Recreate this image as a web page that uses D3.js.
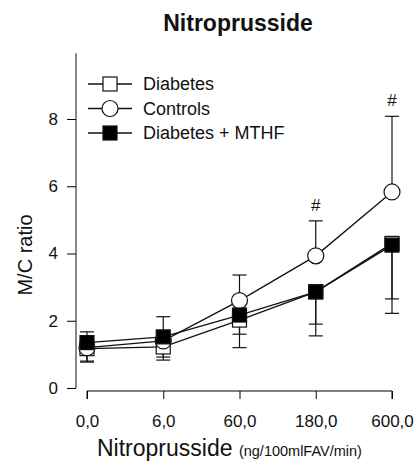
<!DOCTYPE html>
<html>
<head>
<meta charset="utf-8">
<script src="https://cdn.jsdelivr.net/npm/d3@7"></script>
<style>
  body { margin: 0; background: #fff; }
  text { font-family: "Liberation Sans", Arial, sans-serif; fill: #111; }
</style>
</head>
<body>
<script>
// data
var doses = ["0,0", "6,0", "60,0", "180,0", "600,0"];
var controls = [1.2, 1.4, 2.6, 3.93, 5.83];
var controlsUpper = [1.67, 2.12, 3.36, 4.97, 8.08];
var diabetes = [1.17, 1.22, 2.02, 2.86, 4.3];
var diabetesLower = [0.8, 0.92, 1.6, 1.9, 2.65];
var mthf = [1.35, 1.52, 2.17, 2.86, 4.25];
var mthfLower = [0.77, 0.83, 1.2, 1.55, 2.22];
var yTicks = [0, 2, 4, 6, 8];
var signif = ["", "", "", "#", "#"];

var svg = d3.select("body")
            .append("svg")
            .attr("width", 417)
            .attr("height", 465);

var x = d3.scalePoint().domain(doses).range([87, 392]);
var y = d3.scaleLinear().domain([0, 8]).range([388, 119]);

// title
svg.append("text")
   .attr("x", 238).attr("y", 31)
   .attr("text-anchor", "middle")
   .attr("font-size", 23).attr("font-weight", "bold")
   .text("Nitroprusside");

// y axis
var yAxis = svg.append("g")
   .attr("transform", "translate(76,0)")
   .call(d3.axisLeft(y).tickValues(yTicks).tickSize(9).tickPadding(9));
yAxis.select(".domain").remove();
yAxis.append("line")
   .attr("x1", 0).attr("x2", 0)
   .attr("y1", y(9.95)).attr("y2", y(0))
   .attr("stroke", "#111");
yAxis.selectAll("text").attr("font-size", 17).attr("font-family", "Liberation Sans, Arial, sans-serif").attr("fill", "#111");

svg.append("text")
   .attr("transform", "translate(32,255) rotate(-90)")
   .attr("text-anchor", "middle")
   .attr("font-size", 20)
   .text("M/C ratio");

// x axis
var xAxis = svg.append("g")
   .attr("transform", "translate(0,391)")
   .call(d3.axisBottom(x).tickSize(8).tickPadding(16));
xAxis.select(".domain").attr("d", "M87,8V0H392V8");
xAxis.selectAll("text").attr("font-size", 17).attr("font-family", "Liberation Sans, Arial, sans-serif").attr("fill", "#111");

var xt = svg.append("text")
   .attr("x", 97).attr("y", 456)
   .attr("font-size", 23);
xt.append("tspan").text("Nitroprusside ");
xt.append("tspan").attr("font-size", 14.5).text("(ng/100mlFAV/min)");

// error bars
function bars(vals, ends) {
  var g = svg.append("g").attr("stroke", "#111").attr("stroke-width", 1.2);
  doses.forEach(function(d, i) {
    g.append("line")
     .attr("x1", x(d)).attr("x2", x(d))
     .attr("y1", y(vals[i])).attr("y2", y(ends[i]));
    g.append("line")
     .attr("x1", x(d) - 7).attr("x2", x(d) + 7)
     .attr("y1", y(ends[i])).attr("y2", y(ends[i]));
  });
}
bars(controls, controlsUpper);
bars(diabetes, diabetesLower);
bars(mthf, mthfLower);

var line = d3.line()
   .x(function(d, i) { return x(doses[i]); })
   .y(function(d) { return y(d); });

[controls, diabetes, mthf].forEach(function(s) {
  svg.append("path")
     .attr("d", line(s))
     .attr("fill", "none")
     .attr("stroke", "#111")
     .attr("stroke-width", 1.3);
});

// markers
svg.selectAll(".dia").data(diabetes).enter().append("rect")
   .attr("x", function(d, i) { return x(doses[i]) - 7; })
   .attr("y", function(d) { return y(d) - 7; })
   .attr("width", 14).attr("height", 14)
   .attr("fill", "#fff").attr("stroke", "#111").attr("stroke-width", 1.2);

svg.selectAll(".ctl").data(controls).enter().append("circle")
   .attr("cx", function(d, i) { return x(doses[i]); })
   .attr("cy", function(d) { return y(d); })
   .attr("r", 8)
   .attr("fill", "#fff").attr("stroke", "#111").attr("stroke-width", 1.2);

svg.selectAll(".mt").data(mthf).enter().append("rect")
   .attr("x", function(d, i) { return x(doses[i]) - 7; })
   .attr("y", function(d) { return y(d) - 7; })
   .attr("width", 14).attr("height", 14)
   .attr("fill", "#000").attr("stroke", "#111").attr("stroke-width", 1.2);

// significance marks
svg.selectAll(".sig").data(signif).enter().append("text")
   .attr("x", function(d, i) { return x(doses[i]); })
   .attr("y", function(d, i) { return y(controlsUpper[i]) - 10; })
   .attr("text-anchor", "middle")
   .attr("font-size", 17)
   .attr("font-family", "DejaVu Serif, serif")
   .text(function(d) { return d; });

// legend
var legend = [
  { name: "Diabetes", shape: "square", fill: "#fff" },
  { name: "Controls", shape: "circle", fill: "#fff" },
  { name: "Diabetes + MTHF", shape: "square", fill: "#000" }
];
var lg = svg.append("g");
legend.forEach(function(l, i) {
  var ly = 84 + i * 24.5;
  lg.append("line").attr("x1", 88).attr("x2", 132).attr("y1", ly).attr("y2", ly)
    .attr("stroke", "#111").attr("stroke-width", 1.3);
  if (l.shape === "square") {
    lg.append("rect").attr("x", 103).attr("y", ly - 7).attr("width", 14).attr("height", 14)
      .attr("fill", l.fill).attr("stroke", "#111").attr("stroke-width", 1.2);
  } else {
    lg.append("circle").attr("cx", 110).attr("cy", ly).attr("r", 8)
      .attr("fill", l.fill).attr("stroke", "#111").attr("stroke-width", 1.2);
  }
  lg.append("text").attr("x", 143).attr("y", ly + 6)
    .attr("font-size", 18).text(l.name);
});
</script>
</body>
</html>
